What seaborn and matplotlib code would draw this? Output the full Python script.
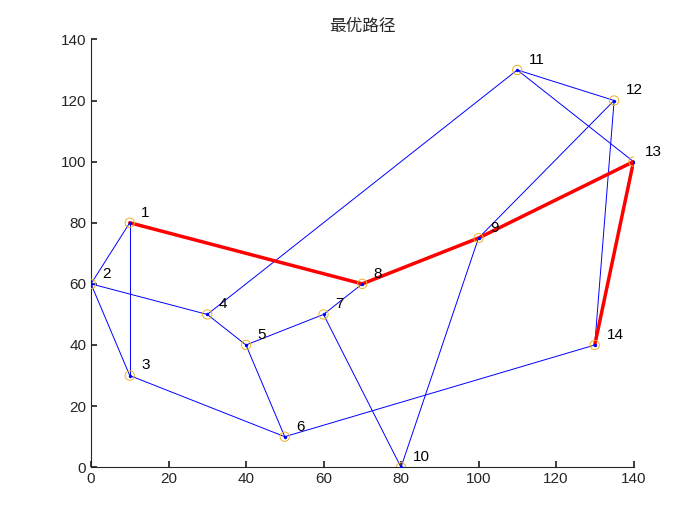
import matplotlib
matplotlib.use("Agg")
import matplotlib.pyplot as plt
import seaborn as sns

sns.set_theme(style="white")
plt.rcParams['font.family'] = ['Liberation Sans', 'Noto Sans CJK SC', 'DejaVu Sans']

# node coordinates
node_x = [10, 0, 10, 30, 40, 50, 60, 70, 100, 80, 110, 135, 140, 130]
node_y = [80, 60, 30, 50, 40, 10, 50, 60, 75, 0, 130, 120, 100, 40]
node_labels = [str(i) for i in range(1, 15)]

# graph edges (1-based)
edges = [(1, 2), (1, 3), (2, 3), (2, 4), (4, 5), (4, 11), (5, 6), (5, 7),
         (7, 8), (7, 10), (3, 6), (6, 14), (9, 10), (9, 12), (11, 12),
         (11, 13), (12, 14), (1, 8), (8, 9), (9, 13), (13, 14)]
# best path
path = [1, 8, 9, 13, 14]

fig, ax = plt.subplots(figsize=(7, 5.25), dpi=100)
for a, b in edges:
    sns.lineplot(x=[node_x[a-1], node_x[b-1]], y=[node_y[a-1], node_y[b-1]],
                 color="#0000ff", lw=0.7, ax=ax, sort=False, estimator=None)
px = [node_x[i-1] for i in path]
py = [node_y[i-1] for i in path]
sns.lineplot(x=px, y=py, color="#ff0000", lw=2.5, ax=ax, sort=False, estimator=None)
sns.scatterplot(x=node_x, y=node_y, s=45, facecolor="none", edgecolor="#edb120",
                linewidth=0.7, ax=ax, zorder=4)
sns.scatterplot(x=node_x, y=node_y, s=6, color="#0000ff", linewidth=0, ax=ax, zorder=5)
for x, y, t in zip(node_x, node_y, node_labels):
    ax.text(x + 3, y + 2, t, fontsize=11, color="black")

ax.set_xlim(0, 140)
ax.set_ylim(0, 140)
ax.set_xticks(range(0, 141, 20))
ax.set_yticks(range(0, 141, 20))
ax.tick_params(direction="in", length=4, labelsize=11, bottom=True, left=True,
               colors="#262626")
for s in ["top", "right"]:
    ax.spines[s].set_visible(False)
for s in ["left", "bottom"]:
    ax.spines[s].set_color("#262626")
    ax.spines[s].set_linewidth(0.8)
ax.set_title("最优路径", fontsize=12, family=['Noto Sans CJK SC', 'DejaVu Sans'])
fig.subplots_adjust(left=0.13, right=0.905, bottom=0.11, top=0.925)
fig.savefig("out.png", dpi=100)
